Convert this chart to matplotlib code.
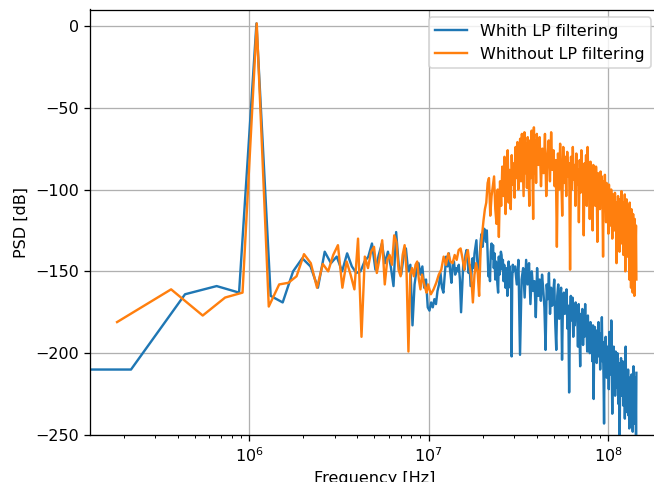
import numpy as np
import matplotlib
matplotlib.use("Agg")
import matplotlib.pyplot as plt

# frequency resolution of the two spectra [Hz]
df_lp = 2.2e5
df_raw = 1.84e5

# with LP filtering: bins 0..45 [dB]
psd_lp_low = [
    -210, -210, -164, -159, -163, 1.5, -165, -169, -150, -142,
    -147, -160, -138, -145, -141, -150, -139, -147, -151, -150,
    -144, -141, -133, -149, -140, -133, -145, -138, -147, -159,
    -126, -146, -152, -141, -136, -150, -146, -183, -158, -149,
    -145, -152, -147, -160, -155, -172,
]
# with LP filtering: bins 46..135 [dB]
psd_lp_mid = [
    -174, -169, -172, -167, -170, -162, -158, -151, -160, -163,
    -152, -141, -147, -139, -150, -157, -146, -144, -152, -148,
    -150, -146, -155, -175, -160, -145, -149, -140, -137, -143,
    -151, -146, -159, -150, -142, -148, -139, -135, -131, -144,
    -150, -153, -138, -130, -127, -135, -129, -124, -126, -132,
    -125, -140, -153, -147, -156, -138, -133, -142, -134, -148,
    -139, -155, -144, -150, -158, -163, -141, -152, -145, -138,
    -140, -149, -143, -156, -146, -152, -160, -148, -155, -165,
    -150, -144, -153, -147, -160, -151, -202, -155, -146, -150,
]
# with LP filtering: every 3rd bin from bin 138 upwards [dB]
psd_lp_high = [
    -147, -158, -143, -201, -155, -148, -166, -143, -158, -145,
    -170, -150, -162, -156, -178, -148, -165, -155, -168, -152,
    -161, -172, -198, -158, -167, -151, -176, -160, -171, -164,
    -155, -182, -198, -165, -158, -179, -166, -160, -204, -170,
    -163, -176, -168, -161, -185, -171, -224, -175, -165, -180,
    -166, -190, -172, -183, -169, -178, -174, -196, -170, -185,
    -208, -176, -186, -173, -195, -180, -190, -170, -188, -182,
    -199, -177, -192, -185, -200, -181, -194, -186, -205, -183,
    -228, -190, -184, -198, -188, -206, -186, -195, -181, -202,
    -191, -210, -188, -199, -178, -205, -196, -214, -243, -193,
    -207, -190, -202, -215, -196, -209, -199, -222, -187, -205,
    -200, -213, -180, -207, -237, -201, -212, -196, -218, -204,
    -226, -199, -210, -203, -221, -200, -215, -231, -206, -218,
    -255, -208, -220, -203, -226, -211, -219, -205, -232, -214,
    -222, -207, -240, -216, -196, -225, -213, -236, -218, -229,
    -210, -238, -221, -246, -215, -245, -226, -219, -241, -213,
    -233, -222, -248, -218, -208, -236, -224, -243, -215, -230,
    -221, -256, -212,
]

# without LP filtering: bins 1..54 [dB]
psd_raw_low = [
    -181, -161, -177, -166, -163, 1.5, -171.5, -158, -157, -153,
    -139.5, -145, -160, -145.5, -150, -140, -134, -160, -144, -152,
    -161, -130, -190, -141, -148, -138, -135, -151, -142, -131,
    -158, -143, -140, -146, -128, -132, -149, -153, -140, -134,
    -150, -199, -152, -148, -153, -146, -144, -155, -161, -152,
    -156, -160, -163, -158,
]
# without LP filtering: every 2nd bin, bins 56..218 [dB]
psd_raw_mid = [
    -164, -161, -157, -152, -149, -141, -146, -139, -144, -145,
    -140, -143, -137, -136, -142, -149, -141, -137, -146, -153,
    -169, -152, -145, -150, -165, -137, -128, -119, -112, -108,
    -96, -93, -116, -104, -98, -92, -112, -121, -100, -129,
    -95, -110, -86, -104, -80, -115, -92, -76, -108, -88,
    -112, -79, -97, -84, -105, -74, -93, -71, -100, -82,
    -69, -95, -66, -86, -104, -65, -90, -72, -99, -68,
    -88, -110, -70, -93, -64, -84, -118, -62, -90, -70,
    -96, -66,
]
# without LP filtering: every 4th bin from bin 222 upwards [dB]
psd_raw_high = [
    -85, -68, -98, -75, -90, -66, -104, -80, -70,
    -95, -65, -88, -76, -98, -82, -135, -78, -100, -72,
    -90, -116, -74, -96, -80, -104, -77, -92, -84, -149,
    -80, -100, -74, -94, -85, -110, -78, -97, -88, -120,
    -82, -102, -76, -95, -90, -128, -84, -99, -79, -110,
    -74, -92, -86, -118, -83, -100, -89, -125, -85, -104,
    -92, -110, -86, -98, -132, -90, -105, -94, -112, -89,
    -100, -92, -108, -141, -95, -113, -91, -104, -120, -96,
    -110, -99, -127, -97, -115, -104, -122, -100, -112, -130,
    -103, -118, -107, -125, -102, -116, -108, -145, -111, -130,
    -104, -121, -110, -138, -106, -126, -114, -101, -133, -117,
    -108, -140, -115, -128, -103, -150, -119, -132, -106, -127,
    -141, -110, -133, -120, -155, -108, -137, -124, -160, -112,
    -140, -126, -163, -115, -150, -131, -165, -118, -146, -136,
    -122, -155,
]

# frequency axes
f_lp = df_lp * np.concatenate([
    np.arange(len(psd_lp_low)),
    46 + np.arange(len(psd_lp_mid)),
    138 + 3 * np.arange(len(psd_lp_high)),
])
f_raw = df_raw * np.concatenate([
    1 + np.arange(len(psd_raw_low)),
    56 + 2 * np.arange(len(psd_raw_mid)),
    222 + 4 * np.arange(len(psd_raw_high)),
])
psd_lp = np.array(psd_lp_low + psd_lp_mid + psd_lp_high)
psd_raw = np.array(psd_raw_low + psd_raw_mid + psd_raw_high)

fig = plt.figure(figsize=(654 / 115, 482 / 115), dpi=115)
ax = fig.add_axes([90 / 654, 47 / 482, 569 / 654, 425.5 / 482])

ax.semilogx(f_lp, psd_lp, label='Whith LP filtering')
ax.semilogx(f_raw, psd_raw, label='Whithout LP filtering')

ax.set_xlim(10 ** 5.114, 10 ** 8.284)
ax.set_ylim(-250, 10)
ax.set_xlabel('Frequency [Hz]')
ax.set_ylabel('PSD [dB]')
ax.grid(True)
ax.legend(loc='upper right')

fig.savefig('out.png', dpi=115)
